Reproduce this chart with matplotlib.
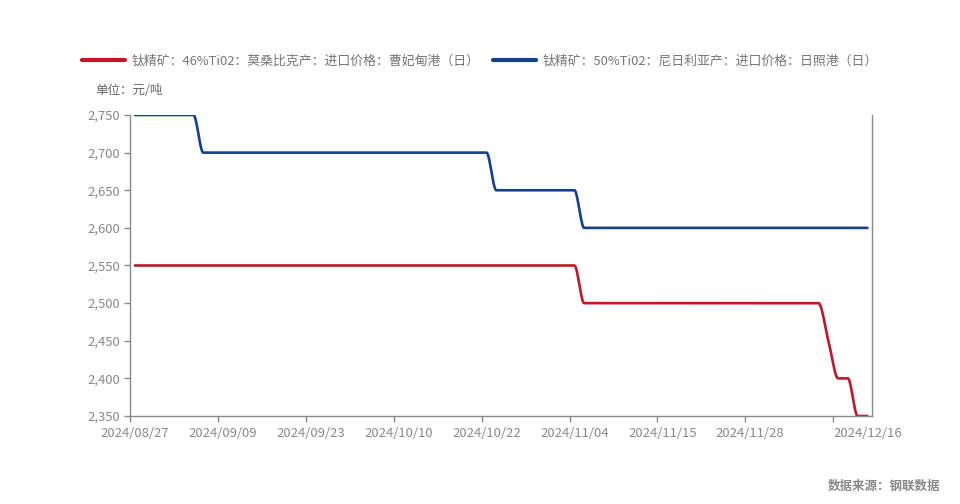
import numpy as np
import matplotlib as mpl
mpl.use('Agg')
import matplotlib.pyplot as plt
from matplotlib.ticker import FuncFormatter

plt.rcParams['font.family'] = ['Noto Sans CJK SC', 'DejaVu Sans']

# trading days (categories)
dates = ['2024/08/27', '2024/08/28', '2024/08/29', '2024/08/30', '2024/09/02', '2024/09/03',
         '2024/09/04', '2024/09/05', '2024/09/06', '2024/09/09', '2024/09/10', '2024/09/11',
         '2024/09/12', '2024/09/13', '2024/09/14', '2024/09/18', '2024/09/19', '2024/09/20',
         '2024/09/23', '2024/09/24', '2024/09/25', '2024/09/26', '2024/09/27', '2024/09/29',
         '2024/09/30', '2024/10/08', '2024/10/09', '2024/10/10', '2024/10/11', '2024/10/12',
         '2024/10/14', '2024/10/15', '2024/10/16', '2024/10/17', '2024/10/18', '2024/10/21',
         '2024/10/22', '2024/10/23', '2024/10/24', '2024/10/25', '2024/10/28', '2024/10/29',
         '2024/10/30', '2024/10/31', '2024/11/01', '2024/11/04', '2024/11/05', '2024/11/06',
         '2024/11/07', '2024/11/08', '2024/11/11', '2024/11/12', '2024/11/13', '2024/11/14',
         '2024/11/15', '2024/11/18', '2024/11/19', '2024/11/20', '2024/11/21', '2024/11/22',
         '2024/11/25', '2024/11/26', '2024/11/27', '2024/11/28', '2024/11/29', '2024/12/02',
         '2024/12/03', '2024/12/04', '2024/12/05', '2024/12/06', '2024/12/09', '2024/12/10',
         '2024/12/11', '2024/12/12', '2024/12/13', '2024/12/16']

# 钛精矿 46%TiO2 莫桑比克 曹妃甸港
red = [2550, 2550, 2550, 2550, 2550, 2550, 2550, 2550, 2550, 2550,
       2550, 2550, 2550, 2550, 2550, 2550, 2550, 2550, 2550, 2550,
       2550, 2550, 2550, 2550, 2550, 2550, 2550, 2550, 2550, 2550,
       2550, 2550, 2550, 2550, 2550, 2550, 2550, 2550, 2550, 2550,
       2550, 2550, 2550, 2550, 2550, 2550, 2500, 2500, 2500, 2500,
       2500, 2500, 2500, 2500, 2500, 2500, 2500, 2500, 2500, 2500,
       2500, 2500, 2500, 2500, 2500, 2500, 2500, 2500, 2500, 2500,
       2500, 2450, 2400, 2400, 2350, 2350]

# 钛精矿 50%TiO2 尼日利亚 日照港
blue = [2750, 2750, 2750, 2750, 2750, 2750, 2750, 2700, 2700, 2700,
        2700, 2700, 2700, 2700, 2700, 2700, 2700, 2700, 2700, 2700,
        2700, 2700, 2700, 2700, 2700, 2700, 2700, 2700, 2700, 2700,
        2700, 2700, 2700, 2700, 2700, 2700, 2700, 2650, 2650, 2650,
        2650, 2650, 2650, 2650, 2650, 2650, 2600, 2600, 2600, 2600,
        2600, 2600, 2600, 2600, 2600, 2600, 2600, 2600, 2600, 2600,
        2600, 2600, 2600, 2600, 2600, 2600, 2600, 2600, 2600, 2600,
        2600, 2600, 2600, 2600, 2600, 2600]

labels = ['钛精矿：46%Ti02：莫桑比克产：进口价格：曹妃甸港（日）',
          '钛精矿：50%Ti02：尼日利亚产：进口价格：日照港（日）']
colors = ['#c3162b', '#163f8c']


def smooth(y, n=30):
    # monotone cubic hermite, so flat parts stay flat
    y = np.asarray(y, dtype=float)
    x = np.arange(len(y), dtype=float)
    d = np.diff(y)
    m = np.zeros_like(y)
    for i in range(1, len(y) - 1):
        if d[i - 1] * d[i] > 0:
            m[i] = 2.0 / (1.0 / d[i - 1] + 1.0 / d[i])
    xs, ys = [], []
    for i in range(len(y) - 1):
        t = np.linspace(0, 1, n, endpoint=False)
        h00 = 2 * t**3 - 3 * t**2 + 1
        h10 = t**3 - 2 * t**2 + t
        h01 = -2 * t**3 + 3 * t**2
        h11 = t**3 - t**2
        xs.append(x[i] + t)
        ys.append(h00 * y[i] + h10 * m[i] + h01 * y[i + 1] + h11 * m[i + 1])
    xs.append([x[-1]])
    ys.append([y[-1]])
    return np.concatenate(xs), np.concatenate(ys)


fig = plt.figure(figsize=(9.6, 5.04), dpi=100)
ax = fig.add_axes([130 / 960, 1 - 416 / 504, 742.3 / 960, 301 / 504])

for ser, c, lab in zip([red, blue], colors, labels):
    xs, ys = smooth(ser)
    ax.plot(xs, ys, color=c, lw=1.9, label=lab, solid_capstyle='round')

n = len(dates)
ax.set_xlim(-0.5, n - 0.5)
ax.set_ylim(2350, 2750)
ax.set_yticks(np.arange(2350, 2751, 50))
ax.yaxis.set_major_formatter(FuncFormatter(lambda v, p: '{:,.0f}'.format(v)))

step = 9
lab_idx = list(range(0, n - 9, step)) + [n - 1]
ax.set_xticks(lab_idx)
ax.set_xticklabels([dates[i] for i in lab_idx])
ax.set_xticks([i - 0.5 for i in range(0, n - 1, step)], minor=True)
ax.tick_params(axis='x', which='major', length=0, pad=8)
ax.tick_params(axis='x', which='minor', length=4, color='#888888', width=1)

gray = '#8a8a8a'
ax.tick_params(axis='both', labelsize=9.4, labelcolor='#888888')
ax.tick_params(axis='y', length=4, color=gray, width=1, pad=3)
ax.spines['top'].set_visible(False)
for s in ['left', 'right', 'bottom']:
    ax.spines[s].set_color(gray)
    ax.spines[s].set_linewidth(1)

handles, labs = ax.get_legend_handles_labels()
leg = fig.legend(handles, labs, loc='center left', bbox_to_anchor=(82 / 960, 1 - 61 / 504),
                 ncol=2, frameon=False, fontsize=9.3, handlelength=3.3, handletextpad=0.55,
                 columnspacing=1.05, labelcolor='#777777', borderpad=0, borderaxespad=0)
for line in leg.get_lines():
    line.set_linewidth(3)

fig.text(95 / 960, 1 - 90 / 504, '单位：元/吨', fontsize=9, color='#666666', va='center')
fig.text(940 / 960, 1 - 486 / 504, '数据来源：钢联数据', fontsize=9, color='#888888',
         va='center', ha='right', fontweight='bold')

fig.savefig('out.png', dpi=100)
